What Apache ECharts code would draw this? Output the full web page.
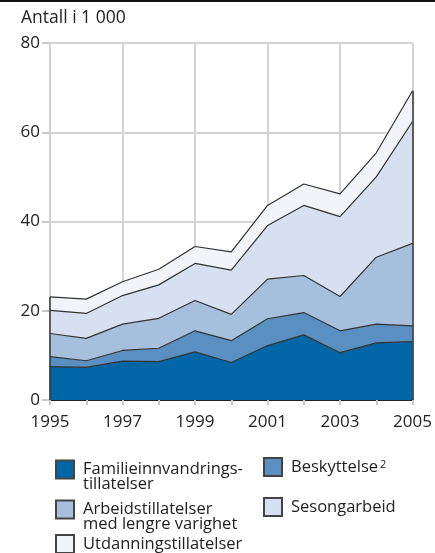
<!DOCTYPE html>
<html><head><meta charset="utf-8">
<script src="https://cdn.jsdelivr.net/npm/echarts@6/dist/echarts.min.js"></script>
<style>html,body{margin:0;padding:0;background:#fff}#c{width:435px;height:553px}</style>
</head><body><div id="c"></div>
<script>
var years = ['1995','1996','1997','1998','1999','2000','2001','2002','2003','2004','2005'];
var familie = [7.5, 7.3, 8.7, 8.6, 10.8, 8.4, 12.2, 14.6, 10.6, 12.8, 13.1];
var beskyttelse = [2.2, 1.5, 2.4, 3.0, 4.7, 4.9, 6.0, 5.0, 4.9, 4.2, 3.5];
var arbeid = [5.2, 5.0, 5.9, 6.7, 6.8, 5.9, 8.9, 8.3, 7.7, 15.0, 18.5];
var sesong = [5.2, 5.6, 6.4, 7.5, 8.3, 9.9, 12.0, 15.7, 17.9, 18.0, 27.3];
var utdanning = [3.0, 3.2, 3.1, 3.5, 3.8, 4.1, 4.5, 4.8, 5.1, 5.4, 6.9];
var yTicks = [0, 20, 40, 60, 80];

var FONT = 'Open Sans';
var names = ['Familieinnvandringstillatelser','Beskyttelse','Arbeidstillatelser med lengre varighet','Sesongarbeid','Utdanningstillatelser'];
var colors = ['#0066a6','#5a8fc2','#a5bfdd','#d6e0f0','#f2f4fa'];
var dataSets = [familie, beskyttelse, arbeid, sesong, utdanning];

function total(i){ return dataSets.reduce(function(s, d){ return s + d[i]; }, 0); }
var last = years.length - 1;

var series = dataSets.map(function(d, i){
  return {
    name: names[i], type: 'line', stack: 'total', data: d,
    symbol: 'none', smooth: false,
    lineStyle: {color: '#333333', width: 1.2},
    itemStyle: {color: colors[i], borderColor: '#444', borderWidth: 1},
    areaStyle: {color: colors[i], opacity: 1},
    z: 3
  };
});
series.push({
  type: 'line', data: [], silent: true, z: 4,
  markLine: {
    silent: true, symbol: 'none', label: {show: false},
    lineStyle: {color: '#333', width: 1.5, type: 'solid'},
    data: [
      [{coord: [years[0], 0]}, {coord: [years[0], total(0)]}],
      [{coord: [years[last], 0]}, {coord: [years[last], total(last)]}]
    ]
  }
});

function legendItem(name, left, top, formatter){
  return {
    left: left, top: top, orient: 'vertical', data: [name], padding: 0,
    icon: 'rect', itemWidth: 18, itemHeight: 18, itemGap: 0,
    selectedMode: false,
    textStyle: {fontFamily: FONT, fontSize: 16.5, color: '#222', lineHeight: 15, padding: [0,0,0,4],
      rich: {n: {fontFamily: FONT, fontSize: 16.5, color: '#222'}, s: {fontFamily: FONT, fontSize: 11, color: '#222', verticalAlign: 'top', padding: [0,0,8,2]}}},
    formatter: formatter
  };
}

var option = {
  animation: false,
  backgroundColor: '#fff',
  textStyle: {fontFamily: FONT},
  graphic: [
    {type: 'rect', shape: {x: 0, y: 0, width: 435, height: 2}, style: {fill: '#111'}},
    {type: 'text', left: 21, top: 9, style: {text: 'Antall i 1 000', font: '17.5px "Open Sans"', fill: '#222'}}
  ],
  legend: [
    legendItem(names[0], 55, 446, function(){ return '\nFamilieinnvandrings-\ntillatelser'; }),
    legendItem(names[1], 263, 457, function(){ return '{n|Beskyttelse}{s|2}'; }),
    legendItem(names[2], 55, 486, function(){ return '\nArbeidstillatelser\nmed lengre varighet'; }),
    legendItem(names[3], 263, 497, function(){ return 'Sesongarbeid'; }),
    legendItem(names[4], 55, 534, function(){ return 'Utdanningstillatelser'; })
  ],
  grid: {left: 50, right: 21, top: 43, bottom: 153},
  xAxis: {
    type: 'category', data: years, boundaryGap: false,
    axisLine: {lineStyle: {color: '#222', width: 2}, z: 10},
    axisTick: {show: true, interval: 0, length: 5, lineStyle: {color: '#c8c8c8', width: 2}},
    axisLabel: {interval: 1, fontFamily: FONT, fontSize: 17, color: '#222', margin: 14},
    splitLine: {show: true, interval: function(i){ return i % 2 === 0; }, lineStyle: {color: '#d4d4d4', width: 2}}
  },
  yAxis: {
    type: 'value', min: 0, max: 80, interval: 20,
    axisLine: {show: false},
    axisTick: {show: true, length: 8, lineStyle: {color: '#c8c8c8', width: 2}},
    axisLabel: {fontFamily: FONT, fontSize: 17, color: '#222', margin: 10,
      formatter: function(v){ return yTicks.indexOf(v) >= 0 ? String(v) : ''; }},
    splitLine: {show: true, lineStyle: {color: '#d4d4d4', width: 2}}
  },
  series: series
};
var chart = echarts.init(document.getElementById('c'), null, {renderer: 'canvas'});
chart.setOption(option);
</script></body></html>
